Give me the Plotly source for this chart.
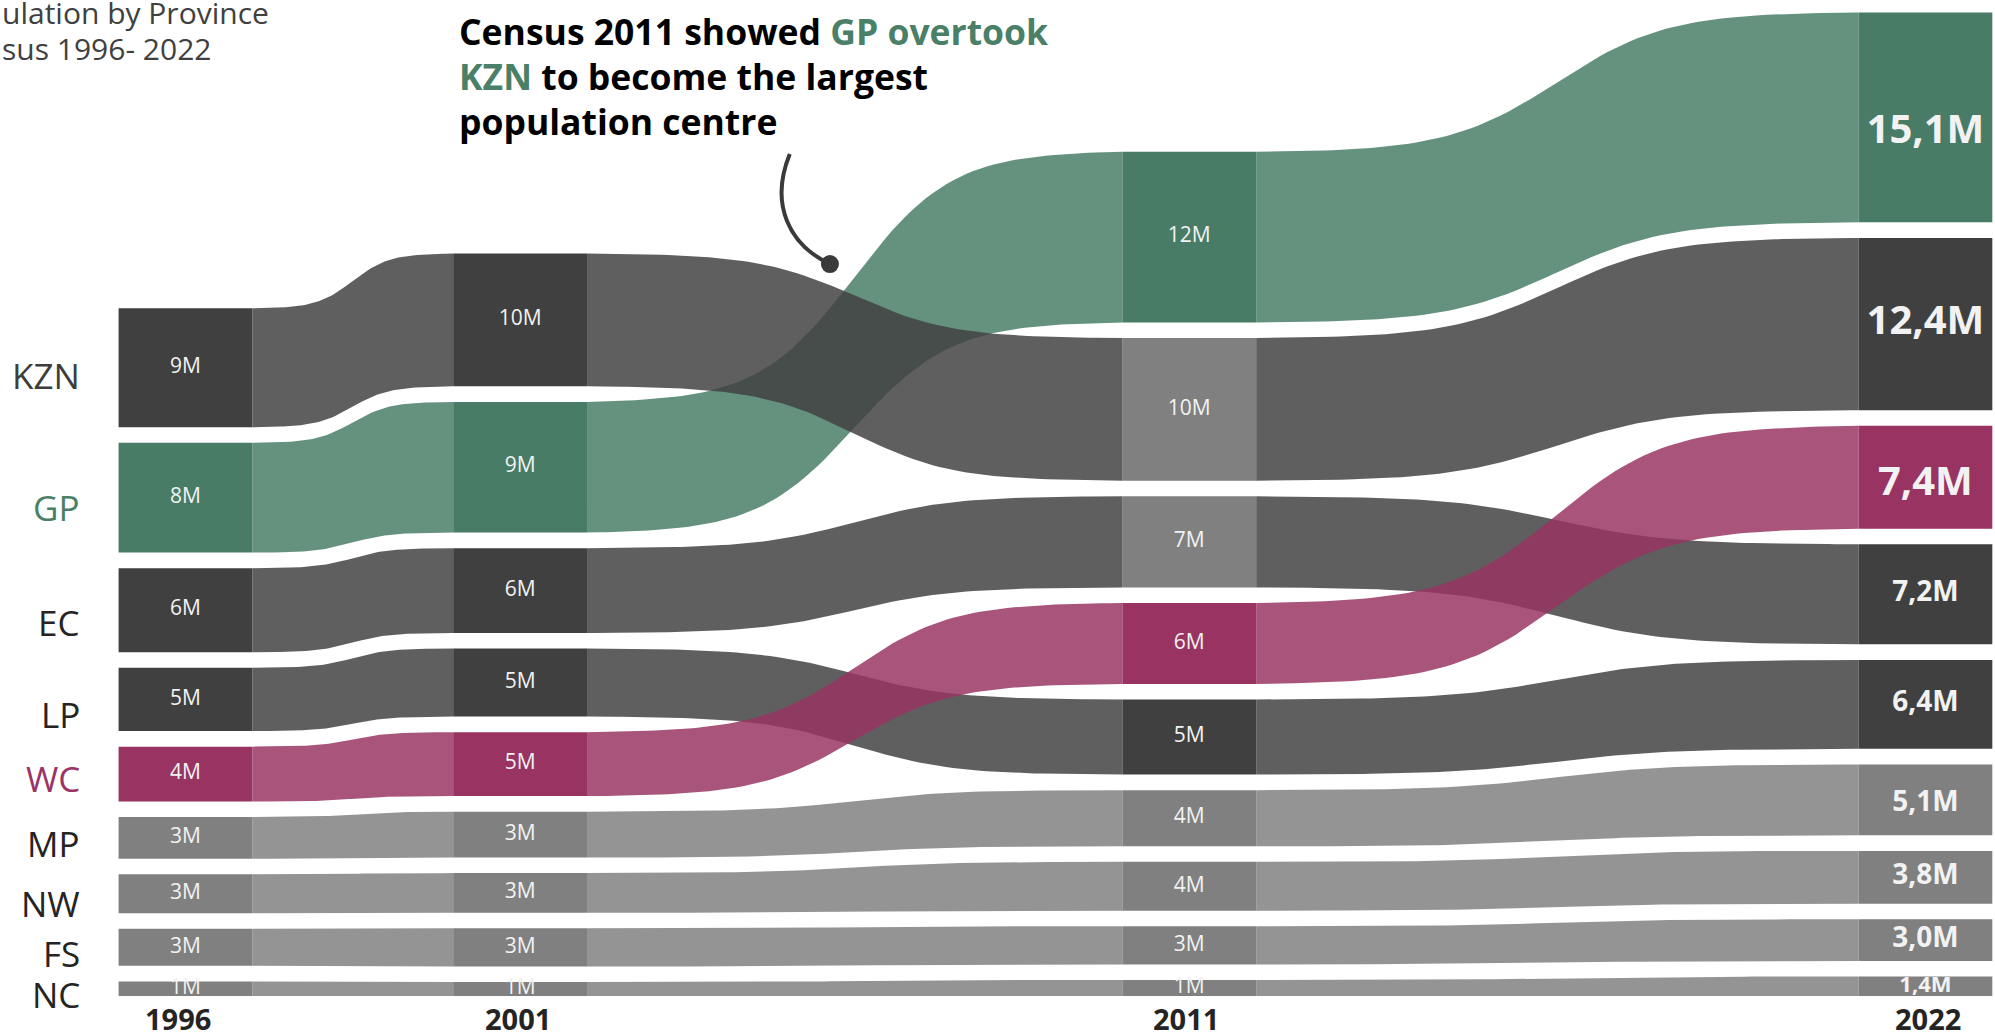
import numpy as np
import plotly.graph_objects as go

# ---------------- data ----------------
years = [1996, 2001, 2011, 2022]
provinces = ["KZN", "GP", "EC", "LP", "WC", "MP", "NW", "FS", "NC"]
pop_1996 = [8.55, 7.9, 6.05, 4.55, 3.95, 3.0, 2.8, 2.66, 1.05]
pop_2001 = [9.55, 9.4, 6.1, 4.9, 4.6, 3.3, 2.85, 2.75, 1.0]
pop_2011 = [10.27, 12.27, 6.56, 5.40, 5.82, 4.04, 3.51, 2.75, 1.15]
pop_2022 = [12.4, 15.1, 7.2, 6.4, 7.4, 5.1, 3.8, 3.0, 1.4]
title_lines = ["ulation by Province", "sus 1996- 2022"]
story_lines = ["Census 2011 showed <span style='color:#4a7f68'>GP overtook</span>",
               "<span style='color:#4a7f68'>KZN</span> to become the largest",
               "population centre"]

pops = [pop_1996, pop_2001, pop_2011, pop_2022]

# ---------------- style ----------------
W, H = 1995, 1034
M_T, M_B = 10, 38
X_RANGE = [1993.228, 2023.04]
Y_RANGE = [0, 70.935]
PX_PER_M = (H - M_T - M_B) / (Y_RANGE[1] - Y_RANGE[0])
HW = 1.0          # half bar width (years)
GAP = 1.12        # vertical gap between stacked bars (millions)
ALPHA = 0.84
FONT = "Open Sans"

series_color = {"GP": "#487c66", "WC": "#983362", "KZN": "#404040", "EC": "#404040",
                "LP": "#404040", "MP": "#808080", "NW": "#808080", "FS": "#808080",
                "NC": "#808080"}
bar_override = {("KZN", 2011): "#808080", ("EC", 2011): "#808080"}
label_color = {"GP": "#4a7f68", "WC": "#9a3366", "KZN": "#3d3d3d"}
label_yshift = {"KZN": -8, "GP": -10, "EC": -12, "LP": -15, "WC": -4, "MP": -6,
                "NW": -9.5, "FS": -6, "NC": -6}
big_2022 = {"GP", "KZN", "WC"}
size_2022 = {"NC": 22}
shift_2022_px = {"GP": 16, "WC": 8, "MP": 4}
year_xshift = {1996: -8, 2001: -2, 2011: -3, 2022: 3}


def hex_rgba(h, a):
    h = h.lstrip("#")
    return "rgba(%d,%d,%d,%.2f)" % (int(h[0:2], 16), int(h[2:4], 16), int(h[4:6], 16), a)


# stacked positions per column (largest on top, bottom aligned)
bottoms, tops = [], []
for vals in pops:
    order = np.argsort(vals)  # smallest first (bottom)
    b = [0.0] * len(vals)
    t = [0.0] * len(vals)
    cur = 0.0
    for idx in order:
        b[idx] = cur
        t[idx] = cur + vals[idx]
        cur = t[idx] + GAP
    bottoms.append(b)
    tops.append(t)


def ease(t, k=11.0):
    f = lambda u: 1.0 / (1.0 + np.exp(-k * (u - 0.5)))
    return (f(t) - f(0.0)) / (f(1.0) - f(0.0))


fig = go.Figure()

# bars
bx, by, bb, bc = [], [], [], []
for c, yr in enumerate(years):
    for i, p in enumerate(provinces):
        bx.append(yr)
        by.append(pops[c][i])
        bb.append(bottoms[c][i])
        bc.append(bar_override.get((p, yr), series_color[p]))
fig.add_trace(go.Bar(x=bx, y=by, base=bb, width=2 * HW, marker=dict(color=bc, line=dict(width=0)),
                     hoverinfo="skip", showlegend=False))

# ribbons (alphabetical draw order)
tt = np.linspace(0, 1, 80)
e = ease(tt)
for p in sorted(provinces):
    i = provinces.index(p)
    xs, ys = [], []
    for c in range(len(years) - 1):
        x0, x1 = years[c] + HW, years[c + 1] - HW
        xx = x0 + (x1 - x0) * tt
        top = tops[c][i] + (tops[c + 1][i] - tops[c][i]) * e
        bot = bottoms[c][i] + (bottoms[c + 1][i] - bottoms[c][i]) * e
        xs += list(xx) + list(xx[::-1]) + [xx[0], None]
        ys += list(top) + list(bot[::-1]) + [top[0], None]
    fig.add_trace(go.Scatter(x=xs, y=ys, mode="lines", fill="toself",
                             fillcolor=hex_rgba(series_color[p], ALPHA),
                             line=dict(width=0), hoverinfo="skip", showlegend=False))

# value labels
for c, yr in enumerate(years):
    vals = pops[c]
    mids = [(bottoms[c][i] + tops[c][i]) / 2 for i in range(len(vals))]
    if yr != 2022:
        fig.add_trace(go.Scatter(x=[yr] * len(vals), y=mids, mode="text",
                                 text=["%dM" % round(v) for v in vals],
                                 textfont=dict(family=FONT, size=21, color="#f2f2f2"),
                                 cliponaxis=True, hoverinfo="skip", showlegend=False))
    else:
        for i, p in enumerate(provinces):
            size = 40 if p in big_2022 else size_2022.get(p, 28)
            yv = mids[i] - shift_2022_px.get(p, 0) / PX_PER_M
            fig.add_trace(go.Scatter(x=[yr], y=[yv], mode="text",
                                     text=[("%.1fM" % vals[i]).replace(".", ",")],
                                     textfont=dict(family=FONT, size=size, color="#f2f2f2"),
                                     texttemplate="<b>%{text}</b>",
                                     cliponaxis=True, hoverinfo="skip", showlegend=False))

annotations = []
# province labels at left of first column
for i, p in enumerate(provinces):
    mid = (bottoms[0][i] + tops[0][i]) / 2
    annotations.append(dict(x=years[0] - HW, y=mid, xref="x", yref="y", text=p, showarrow=False,
                            xanchor="right", yanchor="middle", xshift=-37, yshift=label_yshift[p],
                            font=dict(family=FONT, size=35, color=label_color.get(p, "#252423"))))
# year labels
for yr in years:
    annotations.append(dict(x=yr, y=0, xref="x", yref="paper", text="<b>%d</b>" % yr, showarrow=False,
                            xanchor="center", yanchor="top", yshift=-1, xshift=year_xshift[yr],
                            font=dict(family=FONT, size=29, color="#252423")))

PLOT_H = H - M_T - M_B


def py2paper(py):
    return (H - M_B - py) / PLOT_H


# title (cropped), one annotation per line
for k, line in enumerate(title_lines):
    annotations.append(dict(x=0, y=py2paper(12.7 + 35.6 * k), xref="paper", yref="paper",
                            xanchor="left", yanchor="middle", text=line, showarrow=False,
                            font=dict(family=FONT, size=30, color="#404040")))
# story annotation, one annotation per line
for k, line in enumerate(story_lines):
    annotations.append(dict(x=457 / W, y=py2paper(30.5 + 45.2 * k), xref="paper", yref="paper",
                            xanchor="left", yanchor="middle", text="<b>%s</b>" % line,
                            showarrow=False, align="left",
                            font=dict(family=FONT, size=35.5, color="#000000")))

# connector (anchored in data coordinates near the GP/KZN crossing)
conn = [(2005.03, 60.58), (2004.72, 56.91), (2005.03, 54.03), (2005.63, 52.66)]
path = "M %f,%f C %f,%f %f,%f %f,%f" % tuple(v for pt in conn for v in pt)
shapes = [dict(type="path", path=path, xref="x", yref="y", line=dict(color="#3a3a3a", width=4))]
fig.add_trace(go.Scatter(x=[conn[-1][0]], y=[conn[-1][1]], mode="markers",
                         marker=dict(size=18, color="#3a3a3a"), hoverinfo="skip", showlegend=False,
                         cliponaxis=False))

fig.update_layout(
    width=W, height=H, margin=dict(l=0, r=0, t=M_T, b=M_B),
    paper_bgcolor="white", plot_bgcolor="white", barmode="overlay",
    xaxis=dict(range=X_RANGE, visible=False, fixedrange=True),
    yaxis=dict(range=Y_RANGE, visible=False, fixedrange=True),
    annotations=annotations, shapes=shapes, showlegend=False,
)

fig.write_html("out.html", config={"displayModeBar": False},
               post_script="document.body.style.margin='0';document.body.style.overflow='hidden';")
